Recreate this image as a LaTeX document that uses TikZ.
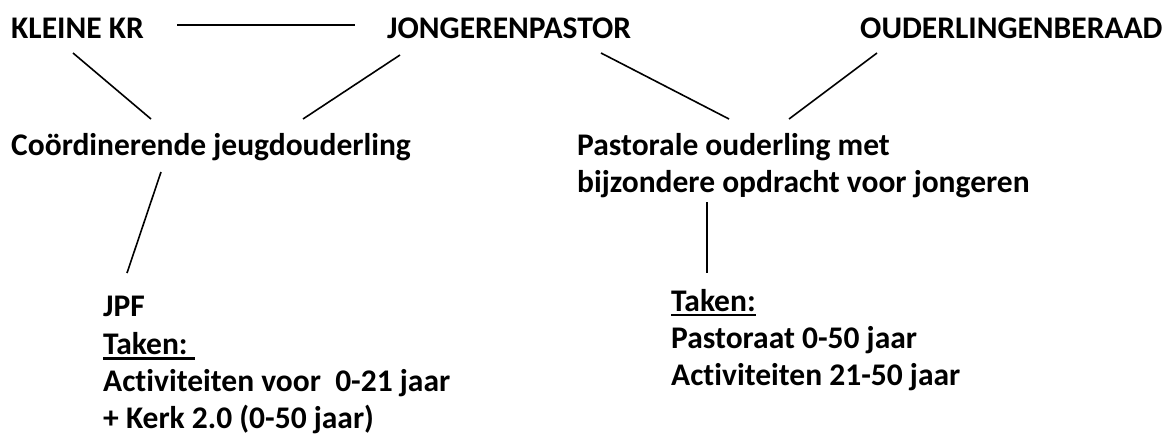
\documentclass[tikz,border=0pt]{standalone}
\usepackage{fontspec}
\setmainfont{Carlito}[Ligatures={NoCommon,NoContextual}]
\usetikzlibrary{calc}
\begin{document}
\begin{tikzpicture}[x=1pt,y=-1pt,
  lbl/.style={inner sep=0pt, anchor=base west, font=\fontsize{31.5}{37}\selectfont\bfseries},
  conn/.style={line width=1.6pt},
  uline/.style={line width=2.8pt}]
\useasboundingbox (0,0) rectangle (1174,434);
\fill[white] (0,0) rectangle (1174,434);
% nodes
\node[lbl] (kr) at (11,38) {KLEINE KR};
\node[lbl] (jp) at (387,38) {JONGERENPASTOR};
\node[lbl] (ob) at (860,38) {OUDERLINGENBERAAD};
\node[lbl] (cj) at (11,155) {Coördinerende jeugdouderling};
\node[lbl] (po1) at (577,155) {Pastorale ouderling met};
\node[lbl] (po2) at (577,192) {bijzondere opdracht voor jongeren};
\node[lbl] (jpf) at (103,316) {JPF};
\node[lbl] (tk1) at (103,354) {Taken:};
\node[lbl] (a1) at (103,391) {Activiteiten voor\ \ 0-21 jaar};
\node[lbl] (k1) at (103,428) {+ Kerk 2.0 (0-50 jaar)};
\node[lbl] (tk2) at (671,311) {Taken:};
\node[lbl] (p2) at (671,348) {Pastoraat 0-50 jaar};
\node[lbl] (a2) at (671,385) {Activiteiten 21-50 jaar};
% connector ends
\coordinate (h1) at (177,25);
\coordinate (h2) at (355,25);
\coordinate (c1a) at (73,53);   \coordinate (c1b) at (151,119);
\coordinate (c2a) at (400,55);  \coordinate (c2b) at (303,119);
\coordinate (c3a) at (601,53);  \coordinate (c3b) at (729,119);
\coordinate (c4a) at (877,53);  \coordinate (c4b) at (789,119);
\coordinate (c5a) at (161,172); \coordinate (c5b) at (127,273);
\coordinate (c6a) at (707,202); \coordinate (c6b) at (707,273);
% connectors
\draw[conn] (h1) -- (h2);
\draw[conn] (c1a) -- (c1b);
\draw[conn] (c2a) -- (c2b);
\draw[conn] (c3a) -- (c3b);
\draw[conn] (c4a) -- (c4b);
\draw[conn] (c5a) -- (c5b);
\draw[conn] (c6a) -- (c6b);
% underlines
\draw[uline] ($(tk1.base west)+(0,4.5)$) -- ($(tk1.base east)+(7,4.5)$);
\draw[uline] ($(tk2.base west)+(0,4)$) -- ($(tk2.base east)+(0,4)$);
\end{tikzpicture}
\end{document}
